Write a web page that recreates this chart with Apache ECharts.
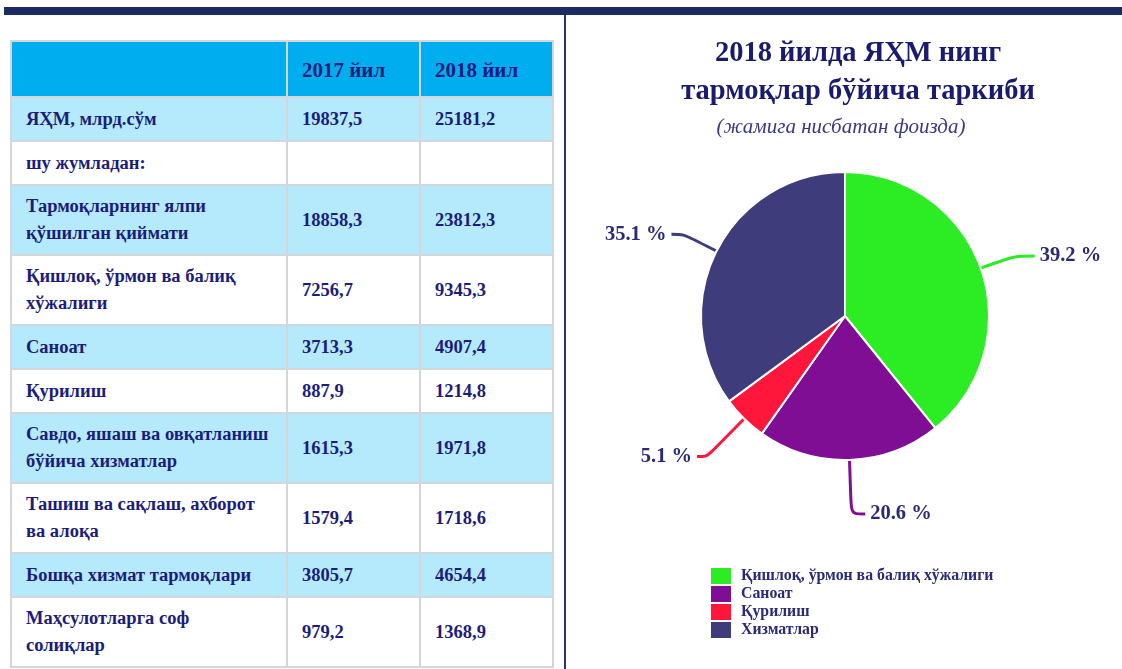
<!DOCTYPE html>
<html>
<head>
    <meta charset="UTF-8">
    <title>ЯҲМ таркиби</title>
    <script src="https://cdn.jsdelivr.net/npm/echarts@6/dist/echarts.min.js"></script>
    <style>
        body { margin: 0; width: 1122px; height: 669px; overflow: hidden; background: #fff;
               font-family: 'Liberation Serif', 'Times New Roman', serif; }
        #main { position: absolute; left: 0; top: 0; width: 1122px; height: 669px; }
        .topbar { position: absolute; left: 4px; top: 7px; width: 1118px; height: 8px; background: #1d2a63; }
        .vline { position: absolute; left: 564px; top: 15px; width: 2px; height: 654px; background: #2a3470; }
        #tbl { position: absolute; left: 10px; top: 40px; width: 540px; padding: 2px;
               background: #d3d6da; display: grid; grid-template-columns: 274px 131px 131px; gap: 2px; }
        #tbl div { display: flex; align-items: center; padding-left: 14px; box-sizing: border-box;
                   color: #1c1c7c; font-weight: bold; font-size: 18.5px; line-height: 27px; white-space: pre; }
        #tbl .hd { background: #00aeef; font-size: 21px; padding-top: 3px; }
        #tbl .blue { background: #b4eafc; }
        #tbl .white { background: #fff; }
    </style>
</head>
<body>
    <div id="main"></div>
    <div class="topbar"></div>
    <div class="vline"></div>
    <div id="tbl"></div>

    <script>
        // жадвал маълумотлари
        var headers = ['', '2017 йил', '2018 йил'];
        var rowNames = [
            'ЯҲМ, млрд.сўм',
            'шу жумладан:',
            'Тармоқларнинг ялпи\nқўшилган қиймати',
            'Қишлоқ, ўрмон ва балиқ\nхўжалиги',
            'Саноат',
            'Қурилиш',
            'Савдо, яшаш ва овқатланиш\nбўйича хизматлар',
            'Ташиш ва сақлаш, ахборот\nва алоқа',
            'Бошқа хизмат тармоқлари',
            'Маҳсулотларга соф\nсолиқлар'
        ];
        var values2017 = [19837.5, null, 18858.3, 7256.7, 3713.3, 887.9, 1615.3, 1579.4, 3805.7, 979.2];
        var values2018 = [25181.2, null, 23812.3, 9345.3, 4907.4, 1214.8, 1971.8, 1718.6, 4654.4, 1368.9];

        // доиравий диаграмма (фоизда)
        var pieNames = ['Қишлоқ, ўрмон ва балиқ хўжалиги', 'Саноат', 'Қурилиш', 'Хизматлар'];
        var pieValues = [39.2, 20.6, 5.1, 35.1];
        var pieColors = ['#2ced24', '#7f0e95', '#fe163b', '#3e3c7a'];

        function fmt(v) {
            return v == null ? '' : v.toFixed(1).replace('.', ',');
        }

        // жадвални чизиш
        var tbl = document.getElementById('tbl');
        var rowsTpl = ['54px'];
        headers.forEach(function (h) {
            var d = document.createElement('div');
            d.className = 'hd';
            d.textContent = h;
            tbl.appendChild(d);
        });
        rowNames.forEach(function (name, i) {
            var cls = i % 2 === 0 ? 'blue' : 'white';
            rowsTpl.push(name.indexOf('\n') >= 0 ? '68px' : '42px');
            [name, fmt(values2017[i]), fmt(values2018[i])].forEach(function (t) {
                var d = document.createElement('div');
                d.className = cls;
                d.textContent = t;
                tbl.appendChild(d);
            });
        });
        tbl.style.gridTemplateRows = rowsTpl.join(' ');

        var myChart = echarts.init(document.getElementById('main'));
        var serif = "'Liberation Serif', 'Times New Roman', serif";

        // ёрлиқ чизиқлари узунлиги (бўлаклар тартибида)
        var lineLen = [[36, 20], [54, 14], [53, 10], [37, 12]];

        var option = {
            color: pieColors,
            title: [
                {
                    text: '2018 йилда ЯҲМ нинг\nтармоқлар бўйича таркиби',
                    left: 853,
                    top: 30,
                    textAlign: 'center',
                    textStyle: {
                        color: '#1a1a6e',
                        fontFamily: serif,
                        fontSize: 28.5,
                        fontWeight: 'bold',
                        lineHeight: 38
                    }
                },
                {
                    text: '(жамига нисбатан фоизда)',
                    left: 836,
                    top: 112,
                    textAlign: 'center',
                    textStyle: {
                        color: '#3a3a82',
                        fontFamily: serif,
                        fontSize: 21,
                        fontStyle: 'italic',
                        fontWeight: 'normal'
                    }
                }
            ],
            legend: {
                orient: 'vertical',
                left: 709,
                top: 566,
                icon: 'rect',
                itemWidth: 22,
                itemHeight: 18,
                itemGap: -2,
                padding: 0,
                textStyle: {
                    color: '#2a2a78',
                    fontFamily: serif,
                    fontSize: 15.8,
                    lineHeight: 18,
                    fontWeight: 'bold',
                    padding: [0, 0, 0, 4]
                },
                data: pieNames
            },
            series: [
                {
                    type: 'pie',
                    center: [845, 316],
                    radius: 144,
                    startAngle: 90,
                    clockwise: true,
                    avoidLabelOverlap: false,
                    itemStyle: {
                        borderColor: '#fff',
                        borderWidth: 2
                    },
                    label: {
                        show: true,
                        formatter: '{c} %',
                        color: '#2b2a75',
                        fontFamily: serif,
                        fontSize: 20.5,
                        fontWeight: 'bold'
                    },
                    labelLine: {
                        show: true,
                        smooth: 0.3,
                        lineStyle: { width: 3 }
                    },
                    emphasis: { disabled: true },
                    data: pieNames.map(function (n, i) {
                        return {
                            name: n,
                            value: pieValues[i],
                            labelLine: { length: lineLen[i][0], length2: lineLen[i][1] }
                        };
                    })
                }
            ]
        };

        myChart.setOption(option);
    </script>
</body>
</html>
